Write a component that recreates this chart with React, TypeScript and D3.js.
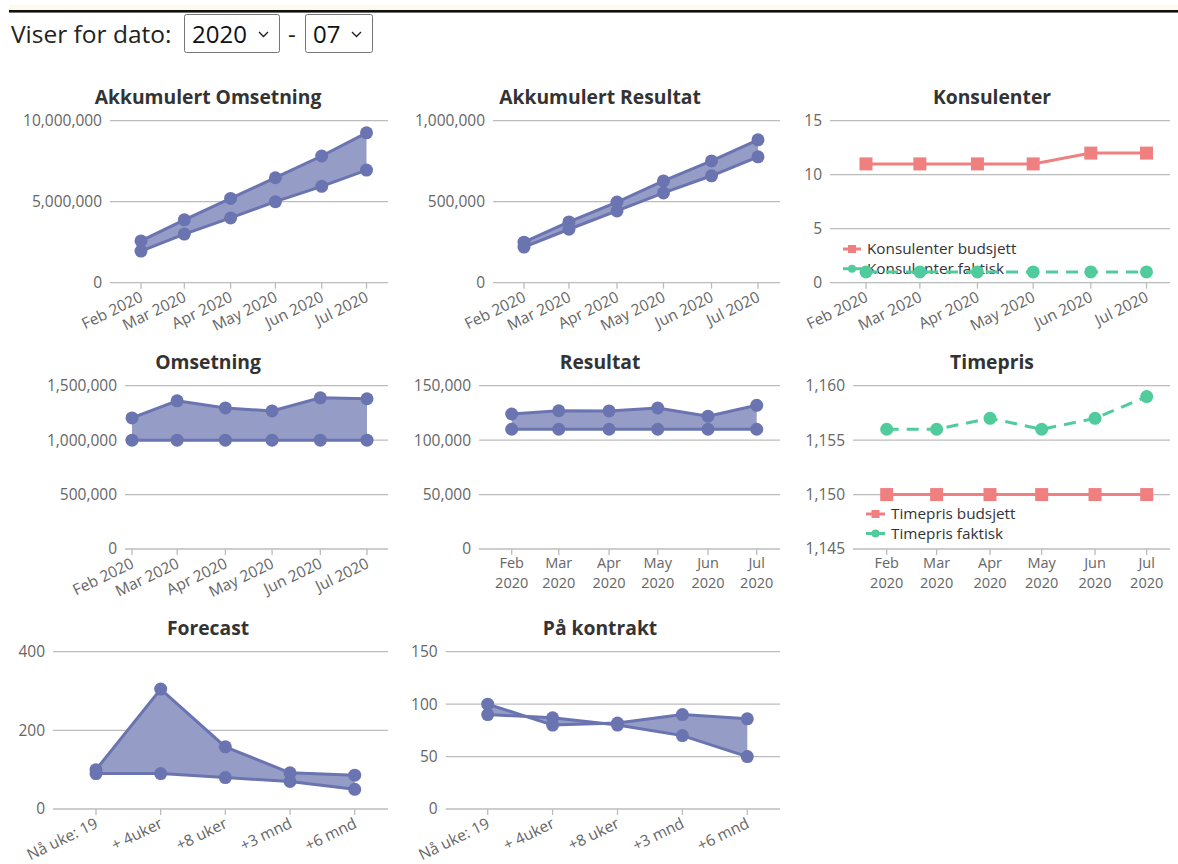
import React from "react";
import * as d3 from "d3";

// ---------- DATA ----------
const months = ["2020-02-01", "2020-03-01", "2020-04-01", "2020-05-01", "2020-06-01", "2020-07-01"];
const forecastSteps = ["Nå uke: 19", "+ 4uker", "+8 uker", "+3 mnd", "+6 mnd"];

const akkOmsetningFaktisk = [2580000, 3880000, 5200000, 6480000, 7820000, 9250000];
const akkOmsetningBudsjett = [1950000, 3000000, 4000000, 5000000, 5950000, 6950000];

const akkResultatFaktisk = [250000, 375000, 498000, 628000, 752000, 882000];
const akkResultatBudsjett = [220000, 330000, 443000, 554000, 660000, 777000];

const konsulenterBudsjett = [11, 11, 11, 11, 12, 12];
const konsulenterFaktisk = [1, 1, 1, 1, 1, 1];

const omsetningFaktisk = [1204000, 1361000, 1296000, 1268000, 1389000, 1380000];
const omsetningBudsjett = [1000000, 1000000, 1000000, 1000000, 1000000, 1000000];

const resultatFaktisk = [124000, 127000, 126800, 129500, 122000, 132000];
const resultatBudsjett = [110000, 110000, 110000, 110000, 110000, 110000];

const timeprisBudsjett = [1150, 1150, 1150, 1150, 1150, 1150];
const timeprisFaktisk = [1156, 1156, 1157, 1156, 1157, 1159];

const forecastA = [100, 305, 158, 92, 86];
const forecastB = [90, 90, 80, 70, 50];

const kontraktA = [100, 80, 82, 90, 86];
const kontraktB = [90, 87, 80, 70, 50];

const ticksAkkOmsetning = [0, 5000000, 10000000];
const ticksAkkResultat = [0, 500000, 1000000];
const ticksKonsulenter = [0, 5, 10, 15];
const ticksOmsetning = [0, 500000, 1000000, 1500000];
const ticksResultat = [0, 50000, 100000, 150000];
const ticksTimepris = [1145, 1150, 1155, 1160];
const ticksForecast = [0, 200, 400];
const ticksKontrakt = [0, 50, 100, 150];

// ---------- STYLE ----------
const FONT = "'Open Sans', sans-serif";
const AREA_LINE = "#6a74b0";
const AREA_FILL = "#959dc6";
const RED = "#f08080";
const GREEN = "#50cc9c";
const GRID = "#bcbcbc";
const TICK_TEXT = "#666";
const TITLE = "#333";

const parseDate = d3.timeParse("%Y-%m-%d");
const dates = months.map((m) => parseDate(m) as Date);
const fmtMonthYear = d3.timeFormat("%b %Y");
const fmtMonth = d3.timeFormat("%b");
const fmtYear = d3.timeFormat("%Y");
const fmtNum = d3.format(",");

type Series = { name?: string; values: number[]; color: string; shape: "circle" | "square"; dashed?: boolean; size: number };

type ChartProps = {
  title: string;
  titleX: number;
  titleY: number;
  gridX0: number;
  gridX1: number;
  yTop: number;
  yBottom: number;
  yTicks: number[];
  kind: "time" | "cat";
  xFirst: number;
  xLast: number;
  labelMode: "rotate" | "wrap";
  series: Series[];
  fillBetween?: boolean;
  legend?: { x: number; y: number; gap: number; lineLen: number };
};

function Chart(p: ChartProps) {
  const y = d3.scaleLinear().domain([p.yTicks[0], p.yTicks[p.yTicks.length - 1]]).range([p.yBottom, p.yTop]);
  let xs: number[] = [];
  let labels: string[][] = [];
  if (p.kind === "time") {
    const x = d3.scaleTime().domain([dates[0], dates[dates.length - 1]]).range([p.xFirst, p.xLast]);
    xs = dates.map((d) => x(d));
    labels = dates.map((d) => (p.labelMode === "rotate" ? [fmtMonthYear(d)] : [fmtMonth(d), fmtYear(d)]));
  } else {
    const x = d3.scalePoint<string>().domain(forecastSteps).range([p.xFirst, p.xLast]);
    xs = forecastSteps.map((s) => x(s) as number);
    labels = forecastSteps.map((s) => [s]);
  }

  const line = d3
    .line<number>()
    .x((_, i) => xs[i])
    .y((v) => y(v));

  let areaPath: string | null = null;
  if (p.fillBetween && p.series.length >= 2) {
    const a = p.series[0].values;
    const b = p.series[1].values;
    areaPath = d3
      .area<number>()
      .x((_, i) => xs[i])
      .y0((_, i) => y(b[i]))
      .y1((_, i) => y(a[i]))(a);
  }

  const marker = (s: Series, cx: number, cy: number, key: string, size: number) =>
    s.shape === "circle" ? (
      <circle key={key} cx={cx} cy={cy} r={size} fill={s.color} />
    ) : (
      <rect key={key} x={cx - size} y={cy - size} width={size * 2} height={size * 2} fill={s.color} />
    );

  return (
    <g>
      <text x={p.titleX} y={p.titleY} textAnchor="middle" fontFamily={FONT} fontWeight={700} fontSize={19.3} fill={TITLE}>
        {p.title}
      </text>
      {p.yTicks.map((t) => (
        <g key={"g" + t}>
          <line x1={p.gridX0} x2={p.gridX1} y1={y(t)} y2={y(t)} stroke={GRID} strokeWidth={1.3} />
          <text x={p.gridX0 - 8} y={y(t)} dy="0.35em" textAnchor="end" fontFamily={FONT} fontSize={15.5} fill={TICK_TEXT}>
            {fmtNum(t)}
          </text>
        </g>
      ))}
      {xs.map((xv, i) => (
        <g key={"x" + i}>
          <line x1={xv} x2={xv} y1={p.yBottom} y2={p.yBottom + 6} stroke={GRID} strokeWidth={1.3} />
          {p.labelMode === "rotate" ? (
            <text
              transform={`translate(${xv + 3},${p.yBottom + 18}) rotate(-26)`}
              textAnchor="end"
              fontFamily={FONT}
              fontSize={15.5}
              fill={TICK_TEXT}
            >
              {labels[i][0]}
            </text>
          ) : (
            labels[i].map((l, j) => (
              <text key={j} x={xv} y={p.yBottom + 19 + j * 20} textAnchor="middle" fontFamily={FONT} fontSize={14.5} fill={TICK_TEXT}>
                {l}
              </text>
            ))
          )}
        </g>
      ))}
      {p.legend &&
        p.series.map((s, i) => {
          const ly = p.legend!.y + i * p.legend!.gap;
          const lx = p.legend!.x;
          return (
            <g key={"lg" + i}>
              <line x1={lx} x2={lx + p.legend!.lineLen} y1={ly} y2={ly} stroke={s.color} strokeWidth={3} />
              {marker(s, lx + p.legend!.lineLen / 2, ly, "lm" + i, 4)}
              <text x={lx + p.legend!.lineLen + 6} y={ly} dy="0.35em" fontFamily={FONT} fontSize={15.3} fill={TITLE}>
                {s.name}
              </text>
            </g>
          );
        })}
      {areaPath && <path d={areaPath} fill={AREA_FILL} stroke="none" />}
      {p.series.map((s, i) => (
        <g key={"s" + i}>
          <path
            d={line(s.values) as string}
            fill="none"
            stroke={s.color}
            strokeWidth={3}
            strokeDasharray={s.dashed ? "12,8" : undefined}
          />
          {s.values.map((v, j) => marker(s, xs[j], y(v), "m" + i + "-" + j, s.size))}
        </g>
      ))}
    </g>
  );
}

function Select({ x, w, label }: { x: number; w: number; label: string }) {
  return (
    <g>
      <rect x={x + 0.5} y={14.5} width={w} height={38} rx={2} fill="#fff" stroke="#767676" strokeWidth={1} />
      <text x={x + 8} y={43} fontFamily={FONT} fontSize={24} fill="#111">
        {label}
      </text>
      <path d={`M${x + w - 20},${32} l4.5,4.5 l4.5,-4.5`} fill="none" stroke="#222" strokeWidth={1.4} />
    </g>
  );
}

export default function App() {
  const areaS = (a: number[], b: number[]): Series[] => [
    { values: a, color: AREA_LINE, shape: "circle", size: 6.5 },
    { values: b, color: AREA_LINE, shape: "circle", size: 6.5 },
  ];
  return (
    <svg width={1178} height={864} style={{ position: "absolute", left: 0, top: 0, background: "#fff" }}>
      <rect x={9} y={5} width={1169} height={5} fill="#fdf9ec" />
      <rect x={9} y={10} width={1169} height={2.6} fill="#111" />
      <text x={11} y={43} fontFamily={FONT} fontSize={24.5} fill="#222">
        Viser for dato:
      </text>
      <Select x={184} w={95} label="2020" />
      <text x={288} y={43} fontFamily={FONT} fontSize={24} fill="#222">
        -
      </text>
      <Select x={305} w={67} label="07" />

      <Chart
        title="Akkumulert Omsetning"
        titleX={208}
        titleY={104}
        gridX0={110}
        gridX1={388}
        yTop={120.7}
        yBottom={282.7}
        yTicks={ticksAkkOmsetning}
        kind="time"
        xFirst={141}
        xLast={366.5}
        labelMode="rotate"
        fillBetween
        series={areaS(akkOmsetningFaktisk, akkOmsetningBudsjett)}
      />
      <Chart
        title="Akkumulert Resultat"
        titleX={600}
        titleY={104}
        gridX0={493}
        gridX1={780}
        yTop={120.7}
        yBottom={282.7}
        yTicks={ticksAkkResultat}
        kind="time"
        xFirst={524}
        xLast={758}
        labelMode="rotate"
        fillBetween
        series={areaS(akkResultatFaktisk, akkResultatBudsjett)}
      />
      <Chart
        title="Konsulenter"
        titleX={992}
        titleY={104}
        gridX0={830}
        gridX1={1170}
        yTop={120.7}
        yBottom={282.7}
        yTicks={ticksKonsulenter}
        kind="time"
        xFirst={866}
        xLast={1146.5}
        labelMode="rotate"
        legend={{ x: 843, y: 249, gap: 19.7, lineLen: 18 }}
        series={[
          { name: "Konsulenter budsjett", values: konsulenterBudsjett, color: RED, shape: "square", size: 6.5 },
          { name: "Konsulenter faktisk", values: konsulenterFaktisk, color: GREEN, shape: "circle", size: 6.5, dashed: true },
        ]}
      />

      <Chart
        title="Omsetning"
        titleX={208}
        titleY={369}
        gridX0={125}
        gridX1={388}
        yTop={385.7}
        yBottom={549}
        yTicks={ticksOmsetning}
        kind="time"
        xFirst={132}
        xLast={367}
        labelMode="rotate"
        fillBetween
        series={areaS(omsetningFaktisk, omsetningBudsjett)}
      />
      <Chart
        title="Resultat"
        titleX={600}
        titleY={369}
        gridX0={479}
        gridX1={780}
        yTop={385.7}
        yBottom={549}
        yTicks={ticksResultat}
        kind="time"
        xFirst={511.7}
        xLast={756.7}
        labelMode="wrap"
        fillBetween
        series={areaS(resultatFaktisk, resultatBudsjett)}
      />
      <Chart
        title="Timepris"
        titleX={992}
        titleY={369}
        gridX0={853}
        gridX1={1170}
        yTop={385.7}
        yBottom={549}
        yTicks={ticksTimepris}
        kind="time"
        xFirst={886.7}
        xLast={1146.7}
        labelMode="wrap"
        legend={{ x: 866, y: 514, gap: 19.5, lineLen: 19 }}
        series={[
          { name: "Timepris budsjett", values: timeprisBudsjett, color: RED, shape: "square", size: 6.5 },
          { name: "Timepris faktisk", values: timeprisFaktisk, color: GREEN, shape: "circle", size: 6.5, dashed: true },
        ]}
      />

      <Chart
        title="Forecast"
        titleX={208}
        titleY={635}
        gridX0={53}
        gridX1={388}
        yTop={651.7}
        yBottom={809}
        yTicks={ticksForecast}
        kind="cat"
        xFirst={96}
        xLast={354.7}
        labelMode="rotate"
        fillBetween
        series={areaS(forecastA, forecastB)}
      />
      <Chart
        title="På kontrakt"
        titleX={600}
        titleY={635}
        gridX0={445.7}
        gridX1={780}
        yTop={651.7}
        yBottom={809}
        yTicks={ticksKontrakt}
        kind="cat"
        xFirst={487.7}
        xLast={747.3}
        labelMode="rotate"
        fillBetween
        series={areaS(kontraktA, kontraktB)}
      />
    </svg>
  );
}
